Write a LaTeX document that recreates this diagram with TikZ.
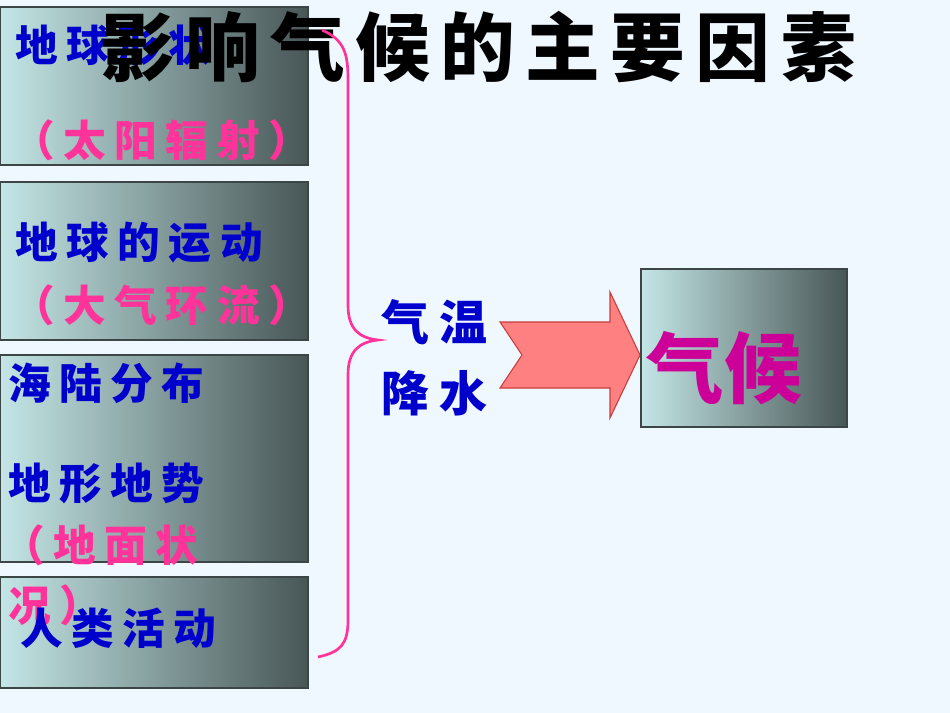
\documentclass[tikz,border=0pt]{standalone}
\usepackage{fontspec}
\newfontfamily\cjk[LetterSpace=20]{Noto Sans CJK SC}
\newfontfamily\cjkq[LetterSpace=22]{Noto Sans CJK SC}
\newfontfamily\cjkt[LetterSpace=14]{Noto Sans CJK SC}
\newfontfamily\cjkh{Noto Sans CJK SC}
\definecolor{bg}{HTML}{F0F8FF}
\definecolor{tblue}{HTML}{0000CC}
\definecolor{tpink}{HTML}{FF3399}
\definecolor{tmag}{HTML}{CC0099}
\tikzset{
  gbox/.style={left color={rgb,255:red,196;green,230;blue,230},right color={rgb,255:red,72;green,86;blue,86},draw={rgb,255:red,60;green,70;blue,70},line width=0.8pt},
  lt/.style={anchor=west,inner sep=0pt,font=\cjk\bfseries\fontsize{32}{34}\selectfont},
  bt/.style={lt,text=tblue},
  pt/.style={lt,text=tpink}
}
\begin{document}
\begin{tikzpicture}[x=0.75pt,y=-0.75pt]
\fill[bg] (0,0) rectangle (950,713);
\useasboundingbox (0,0) rectangle (950,713);
\shade[gbox] (0,7) rectangle (308,165);
\shade[gbox] (0,182) rectangle (308,340);
\shade[gbox] (0,355) rectangle (308,562);
\shade[gbox] (0,577) rectangle (308,688);
\node[bt] (t1) at (15,45) {地球形状};
\node[pt] (t2) at (12,140) {（太阳辐射）};
\node[bt] (t3) at (15,243) {地球的运动};
\node[pt] (t4) at (12,305) {（大气环流）};
\node[bt] (t5) at (8,383) {海陆分布};
\node[bt] (t6) at (8,483) {地形地势};
\node[pt] (t7) at (2,545) {（地面状};
\node[pt] (t8) at (8,605) {况）};
\node[bt] (t9) at (20,628) {人类活动};
\node[anchor=center,inner sep=0pt,font=\cjkt\bfseries\fontsize{56}{58}\selectfont] (title) at (478,47) {影响气候的主要因素};
\draw[tpink,line width=2pt] (322,30) .. controls (345,40) and (348,55) .. (348,80)
  -- (348,305) .. controls (348,330) and (360,338) .. (378,340)
  .. controls (360,342) and (348,350) .. (348,375)
  -- (348,620) .. controls (348,645) and (340,652) .. (318,657);
\node[bt,font=\cjkq\bfseries\fontsize{36}{38}\selectfont] (q1) at (381,322) {气温};
\node[bt,font=\cjkq\bfseries\fontsize{36}{38}\selectfont] (q2) at (381,393) {降水};
\draw[fill={rgb,255:red,255;green,128;blue,128},draw={rgb,255:red,200;green,60;blue,60},line width=0.8pt]
  (500,322) -- (610,322) -- (610,292) -- (640,355) -- (610,418) -- (610,388) -- (500,388) -- (522,355) -- cycle;
\shade[gbox] (641,269) rectangle (847,427);
\node[anchor=center,inner sep=0pt,text=tmag,font=\cjkh\bfseries\fontsize{58}{60}\selectfont] (qh) at (724,368) {气候};
\end{tikzpicture}
\end{document}
